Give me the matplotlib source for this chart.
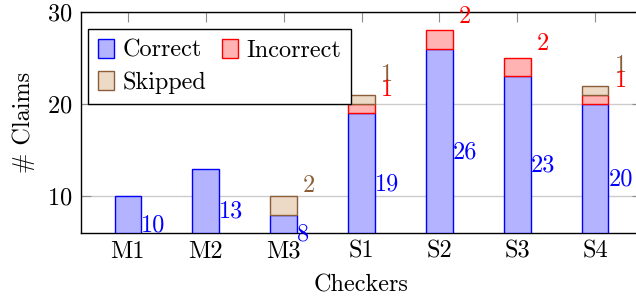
import matplotlib
import matplotlib.pyplot as plt
import numpy as np
from matplotlib.patches import Patch

matplotlib.use('agg')

plt.rcParams['font.family'] = 'cmr10'
plt.rcParams['mathtext.fontset'] = 'cm'
plt.rcParams['axes.unicode_minus'] = False
plt.rcParams['axes.formatter.use_mathtext'] = True

# Data
checkers = ['M1', 'M2', 'M3', 'S1', 'S2', 'S3', 'S4']
correct = [10, 13, 8, 19, 26, 23, 20]
incorrect = [0, 0, 0, 1, 2, 2, 1]
skipped = [0, 0, 2, 1, 0, 0, 1]

# Colours (pgfplots-like)
blue_fill, blue_edge = (0.7, 0.7, 1.0), (0, 0, 1)
red_fill, red_edge = (1.0, 0.7, 0.7), (1, 0, 0)
tan_fill, tan_edge = (0.925, 0.85, 0.775), (0.55, 0.37, 0.22)

ymin, ymax = 6, 30
fs = 17.5
width = 0.34

fig = plt.figure(figsize=(6.36, 3.01), dpi=100)
ax = fig.add_axes([81 / 636, 68 / 301, 561 / 636, 221 / 301])

x = np.arange(len(checkers))
correct = np.array(correct)
incorrect = np.array(incorrect)
skipped = np.array(skipped)


def stack(heights, bottoms, fill, edge):
    # only draw segments that have a height, so empty ones leave no edge line
    keep = heights > 0
    ax.bar(x[keep], heights[keep], width, bottom=bottoms[keep], color=fill,
           edgecolor=edge, linewidth=1, zorder=3)


stack(correct - ymin, np.full(len(x), ymin), blue_fill, blue_edge)
stack(incorrect, correct, red_fill, red_edge)
stack(skipped, correct + incorrect, tan_fill, tan_edge)

# Value labels
for i in range(len(checkers)):
    ax.text(x[i] + width / 2, (ymin + correct[i]) / 2, str(correct[i]), color=blue_edge,
            fontsize=fs, ha='left', va='top', zorder=4)
    if incorrect[i] > 0:
        ax.text(x[i] + width / 2 + 0.08, correct[i] + incorrect[i] + 1.5, str(incorrect[i]),
                color=red_edge, fontsize=fs, ha='left', va='center', zorder=5)
    if skipped[i] > 0:
        ax.text(x[i] + width / 2 + 0.08, correct[i] + incorrect[i] + 3.15, str(skipped[i]),
                color=tan_edge, fontsize=fs, ha='left', va='center', zorder=4)

ax.set_xlim(-0.6, len(checkers) - 0.4)
ax.set_ylim(ymin, ymax)
ax.set_xticks(x)
ax.set_xticklabels(checkers)
ax.set_yticks([10, 20, 30])

ax.yaxis.grid(True, color=(0.8, 0.8, 0.8), linewidth=1, zorder=0)
ax.set_axisbelow(True)

ax.tick_params(axis='both', direction='in', length=7, width=0.8, color=(0.55, 0.55, 0.55),
               labelsize=fs, top=True, right=True)
ax.tick_params(axis='x', pad=18)
ax.tick_params(axis='y', pad=6.5)
for lab in ax.get_xticklabels():
    lab.set_va('baseline')
for s in ax.spines.values():
    s.set_linewidth(1)

ax.set_xlabel('Checkers', fontsize=fs, labelpad=8)
ax.set_ylabel('# Claims', fontsize=fs, labelpad=8)

# Legend filled row by row: Correct, Incorrect / Skipped
handles = [Patch(facecolor=blue_fill, edgecolor=blue_edge, label='Correct'),
           Patch(facecolor=tan_fill, edgecolor=tan_edge, label='Skipped'),
           Patch(facecolor=red_fill, edgecolor=red_edge, label='Incorrect')]
leg = ax.legend(handles=handles, ncol=2, loc='upper left', bbox_to_anchor=(0.0125, 0.923),
                borderaxespad=0, fontsize=fs, fancybox=False, framealpha=1, edgecolor='black',
                handlelength=0.66, handleheight=0.82, handletextpad=0.36, columnspacing=0.65,
                borderpad=0.4, labelspacing=0.39)
leg.get_frame().set_linewidth(1)
leg.set_zorder(6)

plt.savefig('out.png', dpi=100)
